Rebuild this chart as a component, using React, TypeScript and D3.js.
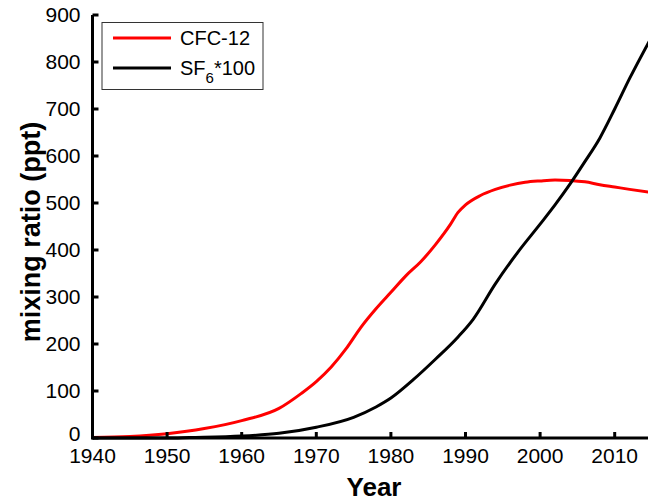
import React from "react";
import * as d3 from "d3";

const cfcYears = [1940, 1945, 1950, 1955, 1960, 1965, 1968, 1970, 1972, 1974, 1976, 1978, 1980, 1982, 1984, 1986, 1988, 1989, 1990, 1992, 1994, 1996, 1998, 2000, 2002, 2004, 2006, 2008, 2010, 2012, 2015];
const cfcValues = [1, 3, 9, 20, 37, 63, 95, 120, 151, 190, 236, 275, 310, 345, 375, 412, 455, 480, 496, 516, 529, 538, 544, 547, 549, 548, 545, 539, 534, 529, 522];

const sf6Years = [1940, 1950, 1953, 1960, 1965, 1970, 1975, 1978, 1980, 1983, 1986, 1989, 1991, 1994, 1997, 2000, 2002, 2004, 2006, 2008, 2010, 2012, 2015];
const sf6Values = [0, 0, 1, 4, 10, 23, 44, 66, 85, 124, 168, 215, 252, 328, 395, 455, 496, 540, 588, 638, 700, 765, 855];

const xTicks = [1940, 1950, 1960, 1970, 1980, 1990, 2000, 2010];
const yTicks = [0, 100, 200, 300, 400, 500, 600, 700, 800, 900];

const W = 648;
const H = 501;

export default function App() {
  const x = d3.scaleLinear().domain([1940, 2015]).range([92.5, 92.5 + 75 * 7.46]);
  const y = d3.scaleLinear().domain([0, 900]).range([438, 15]);
  const line = d3
    .line<[number, number]>()
    .x((d) => x(d[0]))
    .y((d) => y(d[1]))
    .curve(d3.curveMonotoneX);
  const cfc = cfcYears.map((yr, i) => [yr, cfcValues[i]] as [number, number]);
  const sf6 = sf6Years.map((yr, i) => [yr, sf6Values[i]] as [number, number]);
  const font = "'Liberation Sans', Arial, Helvetica, sans-serif";
  const x0 = x(1940);
  const y0 = y(0);
  return (
    <svg
      width={W}
      height={H}
      style={{ position: "fixed", left: 0, top: 0, background: "#fff" }}
      fontFamily={font}
    >
      <rect x={0} y={0} width={W} height={H} fill="#fff" />
      <defs>
        <clipPath id="plotclip">
          <rect x={x0} y={0} width={W - x0} height={y0 + 2} />
        </clipPath>
      </defs>
      <g clipPath="url(#plotclip)">
        <path d={line(cfc) || ""} fill="none" stroke="#ff0000" strokeWidth={3} strokeLinejoin="round" />
        <path d={line(sf6) || ""} fill="none" stroke="#000" strokeWidth={3} strokeLinejoin="round" />
      </g>
      {/* axes */}
      <line x1={x0} x2={W} y1={y0} y2={y0} stroke="#000" strokeWidth={3} />
      <line x1={x0} x2={x0} y1={y(900)} y2={y0 + 1.5} stroke="#000" strokeWidth={3} />
      {xTicks.map((t) => (
        <g key={"x" + t}>
          <line x1={x(t)} x2={x(t)} y1={y0} y2={y0 - 6} stroke="#000" strokeWidth={3} />
          <text x={x(t)} y={463} fontSize={21} textAnchor="middle" fill="#000">
            {t}
          </text>
        </g>
      ))}
      {yTicks.map((t) => (
        <g key={"y" + t}>
          <line x1={x0} x2={x0 + 6} y1={y(t)} y2={y(t)} stroke="#000" strokeWidth={3} />
          <text x={x0 - 12} y={y(t) + (t === 0 ? 3 : 7)} fontSize={21} textAnchor="end" fill="#000">
            {t}
          </text>
        </g>
      ))}
      <text x={374} y={496} fontSize={26} fontWeight="bold" textAnchor="middle" fill="#000">
        Year
      </text>
      <text
        transform={`translate(40, 232) rotate(-90)`}
        fontSize={27}
        fontWeight="bold"
        textAnchor="middle"
        fill="#000"
      >
        mixing ratio (ppt)
      </text>
      {/* legend */}
      <rect x={102} y={22.5} width={161} height={67} fill="#fff" stroke="#333" strokeWidth={1} />
      <line x1={113} x2={171} y1={38} y2={38} stroke="#ff0000" strokeWidth={3} />
      <text x={180} y={45} fontSize={20} fill="#000">
        CFC-12
      </text>
      <line x1={113} x2={171} y1={68} y2={68} stroke="#000" strokeWidth={3} />
      <text x={180} y={75} fontSize={20} fill="#000">
        SF
        <tspan fontSize={15} dy={8}>6</tspan>
        <tspan dy={-8}>*100</tspan>
      </text>
    </svg>
  );
}
